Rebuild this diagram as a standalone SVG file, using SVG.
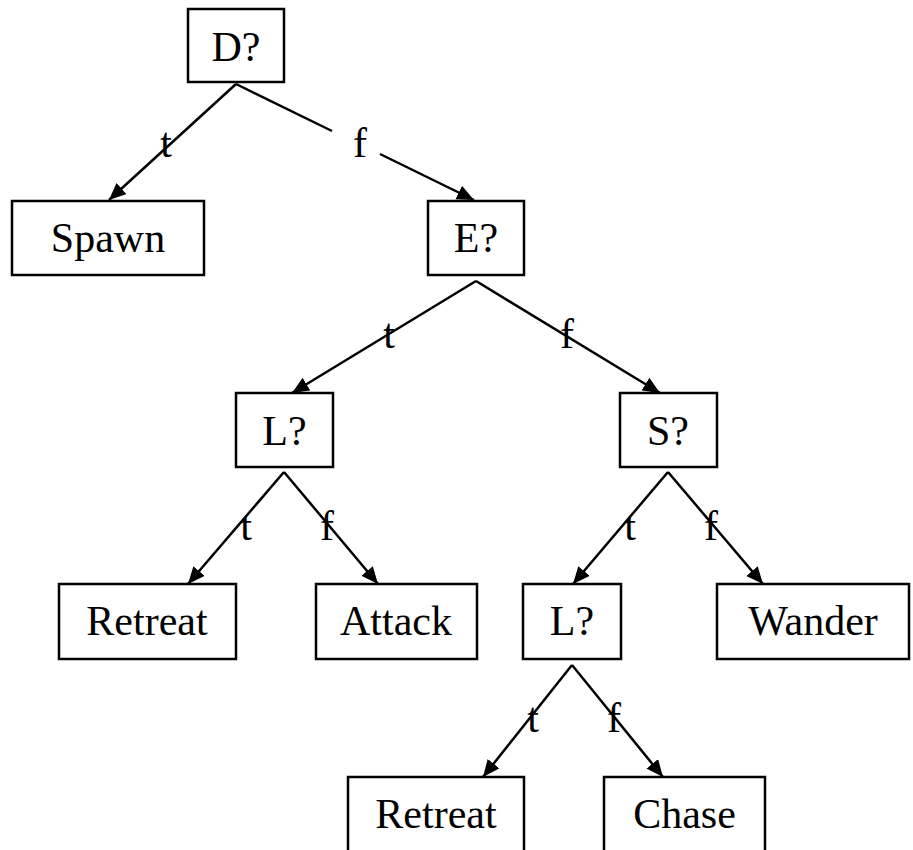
<svg xmlns="http://www.w3.org/2000/svg" width="913" height="850" viewBox="0 0 913 850">
  <style>
    .box { fill: #fff; stroke: #000; stroke-width: 2.5; }
    .txt { font-family: 'Liberation Serif', 'Times New Roman', Times, 'DejaVu Serif', serif; font-size: 42px; fill: #000; text-anchor: middle; }
    .edge { fill: none; stroke: #000; stroke-width: 2.5; }
    .arr { marker-end: url(#head); }
  </style>
  <defs>
    <marker id="head" markerUnits="userSpaceOnUse" markerWidth="18" markerHeight="16" refX="17" refY="7.5" orient="auto">
      <path d="M0,0 L17,7.5 L0,15 z" fill="#000"/>
    </marker>
  </defs>
  <rect width="913" height="850" fill="#fff"/>

  <!-- connectors -->
  <g id="edges">
    <line class="edge arr" x1="236" y1="84" x2="109" y2="200"/>
    <line class="edge" x1="236" y1="84" x2="332" y2="131"/>
    <line class="edge arr" x1="380" y1="154" x2="474" y2="200"/>
    <line class="edge arr" x1="476" y1="281" x2="292" y2="393"/>
    <line class="edge arr" x1="476" y1="281" x2="660" y2="393"/>
    <line class="edge arr" x1="284" y1="472" x2="188" y2="584"/>
    <line class="edge arr" x1="284" y1="472" x2="378" y2="584"/>
    <line class="edge arr" x1="668" y1="472" x2="573" y2="584"/>
    <line class="edge arr" x1="668" y1="472" x2="763" y2="584"/>
    <line class="edge arr" x1="572" y1="665" x2="483" y2="777"/>
    <line class="edge arr" x1="572" y1="665" x2="663" y2="777"/>
    <text class="txt" x="166" y="157">t</text>
    <text class="txt" x="360" y="157">f</text>
    <text class="txt" x="389" y="348">t</text>
    <text class="txt" x="567" y="348">f</text>
    <text class="txt" x="246" y="540">t</text>
    <text class="txt" x="327" y="540">f</text>
    <text class="txt" x="630" y="540">t</text>
    <text class="txt" x="711" y="540">f</text>
    <text class="txt" x="533" y="732">t</text>
    <text class="txt" x="614" y="732">f</text>
  </g>

  <!-- nodes -->
  <g id="n-dead">
    <rect class="box" x="188" y="9" width="96" height="73"/>
    <text class="txt" x="236" y="61">D?</text>
  </g>
  <g id="n-spawn">
    <rect class="box" x="12" y="201" width="192" height="74"/>
    <text class="txt" x="108" y="252">Spawn</text>
  </g>
  <g id="n-enemy">
    <rect class="box" x="428" y="201" width="96" height="74"/>
    <text class="txt" x="476" y="252">E?</text>
  </g>
  <g id="n-low1">
    <rect class="box" x="236" y="393" width="97" height="74"/>
    <text class="txt" x="284.5" y="445">L?</text>
  </g>
  <g id="n-sees">
    <rect class="box" x="620" y="393" width="97" height="74"/>
    <text class="txt" x="668" y="445">S?</text>
  </g>
  <g id="n-retreat1">
    <rect class="box" x="59" y="584" width="177" height="75"/>
    <text class="txt" x="147" y="635">Retreat</text>
  </g>
  <g id="n-attack">
    <rect class="box" x="316" y="584" width="161" height="75"/>
    <text class="txt" x="396" y="635">Attack</text>
  </g>
  <g id="n-low2">
    <rect class="box" x="523" y="584" width="98" height="75"/>
    <text class="txt" x="572" y="635">L?</text>
  </g>
  <g id="n-wander">
    <rect class="box" x="717" y="584" width="192" height="75"/>
    <text class="txt" x="813" y="635">Wander</text>
  </g>
  <g id="n-retreat2">
    <rect class="box" x="348" y="777" width="176" height="75"/>
    <text class="txt" x="436" y="828">Retreat</text>
  </g>
  <g id="n-chase">
    <rect class="box" x="604" y="777" width="161" height="75"/>
    <text class="txt" x="684.5" y="828">Chase</text>
  </g>
</svg>
